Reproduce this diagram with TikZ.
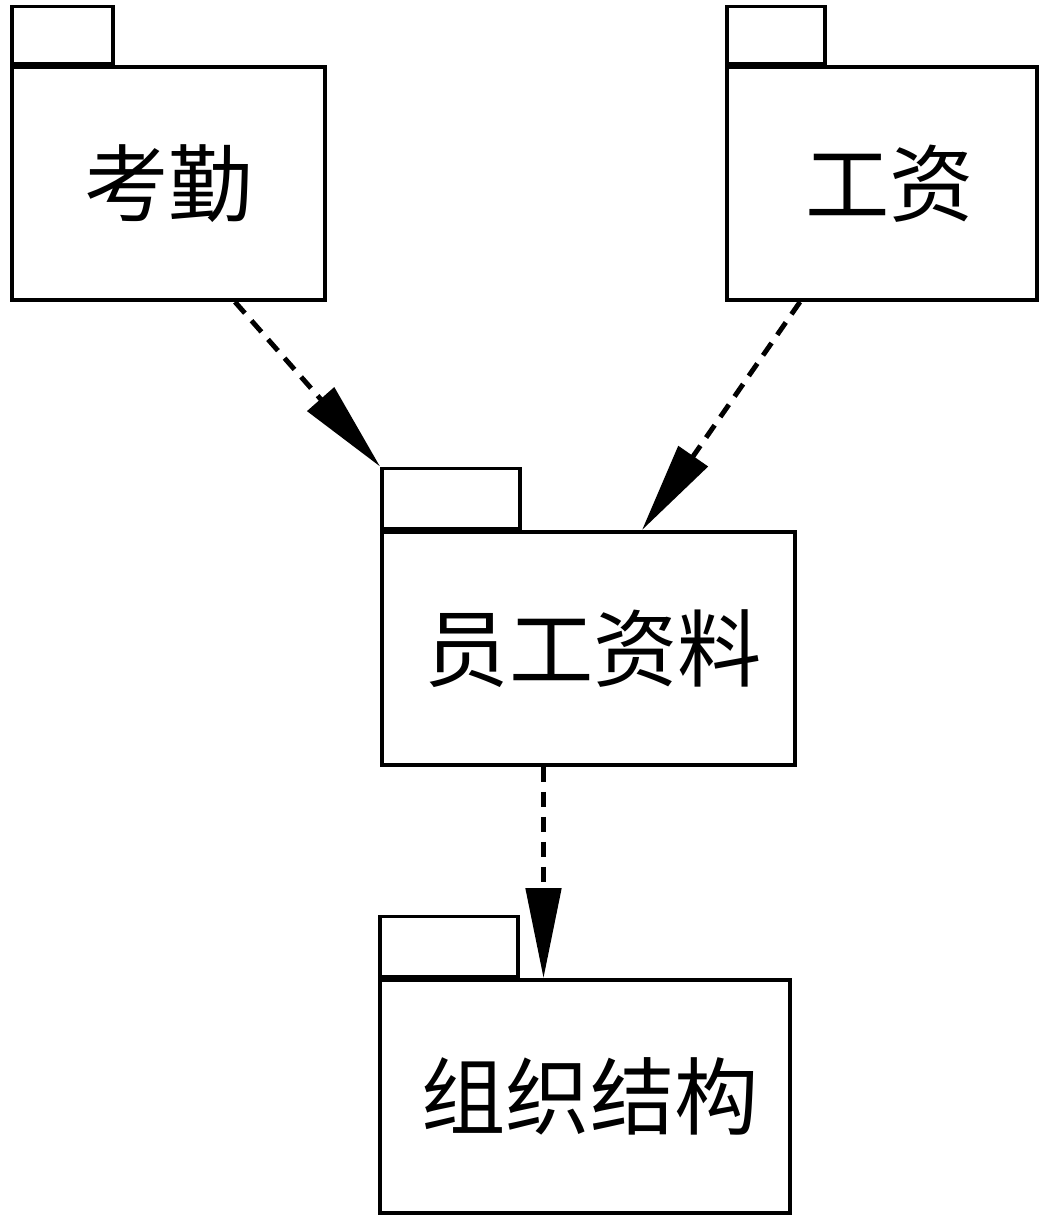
\documentclass[tikz,border=0pt]{standalone}
\usepackage{fontspec}
\newfontfamily\cjk{Noto Sans CJK SC}
\usetikzlibrary{arrows.meta}
\tikzset{
  pkgbody/.style={rectangle, draw=black, line width=2.2pt, fill=white, minimum width=#1, minimum height=4.66cm, inner sep=0pt, font=\cjk\fontsize{48}{48}\selectfont},
  pkgtab/.style={rectangle, draw=black, line width=2pt, fill=white, minimum width=#1, minimum height=1.14cm, inner sep=0pt, anchor=south west},
  deparrow/.style={-{Triangle[length=1.8cm,width=0.7cm]}, line width=2.8pt, dash pattern=on 0.3cm off 0.2cm},
}
\begin{document}
\begin{tikzpicture}[x=0.02cm,y=-0.02cm]
  \useasboundingbox (0,0) rectangle (1046,1227);

  % Top packages
  \node[pkgbody=6.26cm] (kq) at (168.5, 183.5) {考勤};
  \node[pkgtab=2.02cm] (kq_tab) at (kq.north west) {};
  \node[pkgbody=6.2cm] (gz) at (882, 183.5) {\hspace{0.3cm}工资};
  \node[pkgtab=1.96cm] (gz_tab) at (gz.north west) {};

  % Middle package
  \node[pkgbody=8.26cm] (yg) at (588.5, 648.5) {\hspace{0.2cm}员工资料};
  \node[pkgtab=2.76cm, minimum height=1.2cm] (yg_tab) at (yg.north west) {};

  % Bottom package
  \node[pkgbody=8.2cm] (zz) at (585, 1096.5) {\hspace{0.2cm}组织结构};
  \node[pkgtab=2.76cm, minimum height=1.2cm] (zz_tab) at (zz.north west) {};

  % Dependencies
  \draw[deparrow] ([xshift=1.33cm]kq.south) -- (yg_tab.north west);
  \draw[deparrow] ([xshift=-1.64cm]gz.south) -- ([xshift=1.07cm]yg.north);
  \draw[deparrow] ([xshift=-0.9cm]yg.south) -- ([xshift=-0.9cm]yg.south |- zz.north);
\end{tikzpicture}
\end{document}
